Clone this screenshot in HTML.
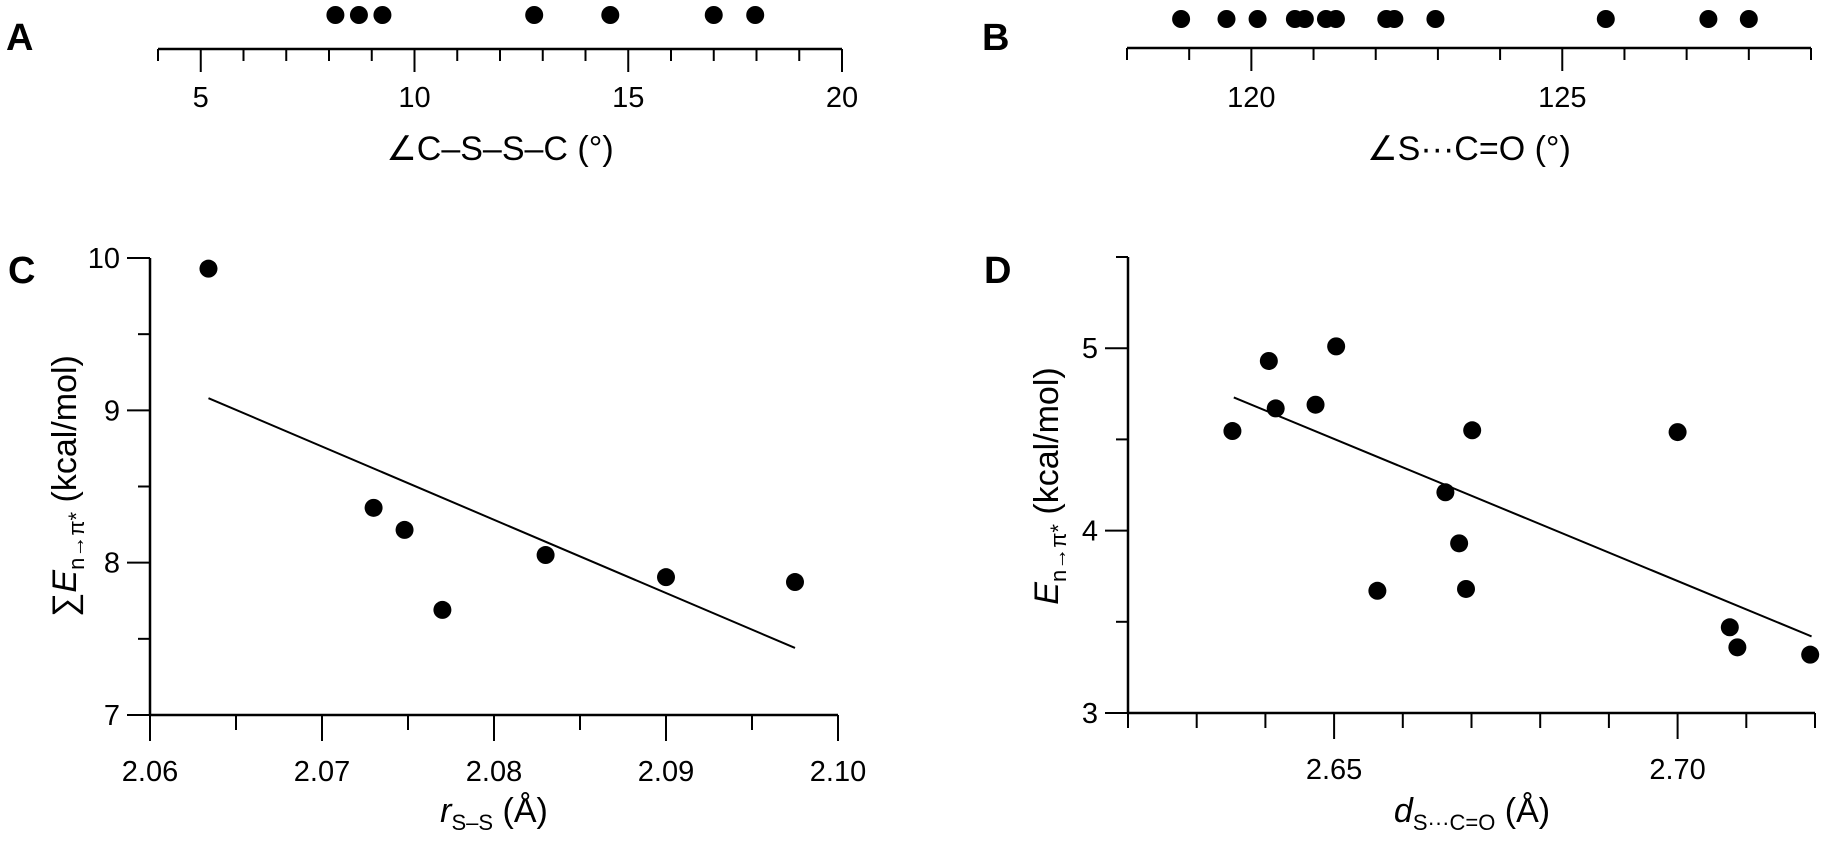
<!DOCTYPE html>
<html><head><meta charset="utf-8"><style>
html,body{margin:0;padding:0;background:#fff;}
svg{display:block;}
text{font-family:"Liberation Sans Narrow","Liberation Sans",sans-serif;fill:#000;}
.lbl{font-size:29px;}
.ttl{font-size:34px;}
.pl{font-family:"Liberation Sans",sans-serif;font-weight:bold;font-size:38px;}
</style></head><body>
<svg id="fig" width="1825" height="842" viewBox="0 0 1825 842" xmlns="http://www.w3.org/2000/svg">
<text class="pl" x="6" y="50">A</text>
<text class="pl" x="982" y="50">B</text>
<text class="pl" x="8" y="283">C</text>
<text class="pl" x="984" y="283">D</text>
<text class="ttl" x="500" y="160" text-anchor="middle">∠C–S–S–C (°)</text>
<text class="ttl" x="1469" y="160" text-anchor="middle">∠S···C=O (°)</text>
<text class="ttl" x="494" y="822" text-anchor="middle"><tspan font-style="italic">r</tspan><tspan font-size="22" dy="8">S–S</tspan><tspan dy="-8"> (Å)</tspan></text>
<text class="ttl" x="1472" y="822" text-anchor="middle"><tspan font-style="italic">d</tspan><tspan font-size="22" dy="8">S···C=O</tspan><tspan dy="-8"> (Å)</tspan></text>
<text class="ttl" transform="translate(76,486) rotate(-90)" text-anchor="middle">∑<tspan font-style="italic">E</tspan><tspan font-size="22" dy="8">n→π*</tspan><tspan dy="-8"> (kcal/mol)</tspan></text>
<text class="ttl" transform="translate(1058,486) rotate(-90)" text-anchor="middle"><tspan font-style="italic">E</tspan><tspan font-size="22" dy="8">n→π*</tspan><tspan dy="-8"> (kcal/mol)</tspan></text>
<g id="gA"></g>
<g id="gB"></g>
<g id="gC"></g>
<g id="gD"></g>
</svg>
<script>
// Panel A data
const aValues = [8.15, 8.7, 9.25, 12.8, 14.58, 17.0, 17.97];
const aTicks = [5, 10, 15, 20];
// Panel B data
const bValues = [118.87, 119.6, 120.1, 120.7, 120.86, 121.2, 121.36, 122.17, 122.3, 122.96, 125.7, 127.35, 128.0];
const bTicks = [120, 125];
// Panel C data
const cX = [2.0634, 2.073, 2.0748, 2.077, 2.083, 2.090, 2.0975];
const cY = [9.93, 8.36, 8.215, 7.69, 8.05, 7.905, 7.873];
const cFitX = [2.0634, 2.0975];
const cFitY = [9.08, 7.44];
const cXTicks = ["2.06", "2.07", "2.08", "2.09", "2.10"];
const cYTicks = [7, 8, 9, 10];
// Panel D data
const dX = [2.6352, 2.6405, 2.6415, 2.6473, 2.6503, 2.6563, 2.6662, 2.6682, 2.6692, 2.6701, 2.700, 2.7076, 2.7087, 2.7193];
const dY = [4.546, 4.93, 4.67, 4.69, 5.01, 3.67, 4.21, 3.93, 3.68, 4.55, 4.54, 3.47, 3.36, 3.32];
const dFitX = [2.6354, 2.7195];
const dFitY = [4.73, 3.42];
const dXTicks = ["2.65", "2.70"];
const dYTicks = [3, 4, 5];

const NS = "http://www.w3.org/2000/svg";
function mk(parent, tag, attrs){const e=document.createElementNS(NS,tag);for(const k in attrs)e.setAttribute(k,attrs[k]);parent.appendChild(e);return e;}
function lin(d0,d1,r0,r1){return v=>r0+(v-d0)*(r1-r0)/(d1-d0);}

// ---- Panel A ----
(function(){
  const g=document.getElementById('gA');
  const x=lin(4,20,158,842), y0=49;
  let l=mk(g,'line',{x1:158,y1:y0,x2:842,y2:y0,stroke:'#000','stroke-width':2.5});
  
  
  for(let v=4;v<=20;v++){
    const maj=aTicks.includes(v);
    const t=mk(g,'line',{x1:x(v),y1:y0,x2:x(v),y2:y0+(maj?23:12),stroke:'#000','stroke-width':2});
    
    
  }
  aTicks.forEach(v=>{const t=mk(g,'text',{x:x(v),y:107,'text-anchor':'middle',class:'lbl'});t.textContent=v;
    
    });
  aValues.forEach(v=>{const c=mk(g,'circle',{cx:x(v),cy:15,r:9,fill:'#000'});
    
    });
})();

// ---- Panel B ----
(function(){
  const g=document.getElementById('gB');
  const x=lin(118,129,1127,1811), y0=48;
  let l=mk(g,'line',{x1:1127,y1:y0,x2:1811,y2:y0,stroke:'#000','stroke-width':2.5});
  
  
  for(let v=118;v<=129;v++){
    const maj=bTicks.includes(v);
    const t=mk(g,'line',{x1:x(v),y1:y0,x2:x(v),y2:y0+(maj?23:12),stroke:'#000','stroke-width':2});
    
    
  }
  bTicks.forEach(v=>{const t=mk(g,'text',{x:x(v),y:107,'text-anchor':'middle',class:'lbl'});t.textContent=v;
    
    });
  bValues.forEach(v=>{const c=mk(g,'circle',{cx:x(v),cy:19,r:9,fill:'#000'});
    
    });
})();

// ---- Scatter panel builder ----
function scatter(id,key,xd,yd,xr,yr,xMinorStep,xLabels,yMinorStep,yLabels,px,py,fx,fy){
  const g=document.getElementById(id);
  const x=lin(xd[0],xd[1],xr[0],xr[1]), y=lin(yd[0],yd[1],yr[0],yr[1]);
  let ax=mk(g,'line',{x1:xr[0],y1:yr[0],x2:xr[1],y2:yr[0],stroke:'#000','stroke-width':2.5});
  
  
  let ay=mk(g,'line',{x1:xr[0],y1:yr[0],x2:xr[0],y2:yr[1],stroke:'#000','stroke-width':2.5});
  
  
  const xl=xLabels.map(Number), yl=yLabels.map(Number);
  const nx=Math.round((xd[1]-xd[0])/xMinorStep);
  for(let i=0;i<=nx;i++){
    const v=xd[0]+i*xMinorStep, maj=xl.some(m=>Math.abs(m-v)<1e-6);
    const t=mk(g,'line',{x1:x(v),y1:yr[0],x2:x(v),y2:yr[0]+(maj?26:15),stroke:'#000','stroke-width':2});
    
    
  }
  const ny=Math.round((yd[1]-yd[0])/yMinorStep);
  for(let i=0;i<=ny;i++){
    const v=yd[0]+i*yMinorStep, maj=yl.some(m=>Math.abs(m-v)<1e-6);
    const t=mk(g,'line',{x1:xr[0]-(maj?23:12),y1:y(v),x2:xr[0],y2:y(v),stroke:'#000','stroke-width':2});
    
    
  }
  xLabels.forEach(s=>{const t=mk(g,'text',{x:x(Number(s)),y:yr[0]+66,'text-anchor':'middle',class:'lbl'});t.textContent=s;
    
    });
  yLabels.forEach(v=>{const t=mk(g,'text',{x:xr[0]-30,y:y(v)+10,'text-anchor':'end',class:'lbl'});t.textContent=v;
    
    });
  const f=mk(g,'line',{x1:x(fx[0]),y1:y(fy[0]),x2:x(fx[1]),y2:y(fy[1]),stroke:'#000','stroke-width':2});
  
  
  px.forEach((v,i)=>{const c=mk(g,'circle',{cx:x(v),cy:y(py[i]),r:9,fill:'#000'});
    
    });
}
scatter('gC','c',[2.06,2.10],[7,10],[150,838],[715,258],0.005,cXTicks,0.5,cYTicks,cX,cY,cFitX,cFitY);
scatter('gD','d',[2.62,2.72],[3,5.5],[1128,1815],[713,257],0.01,dXTicks,0.5,dYTicks,dX,dY,dFitX,dFitY);
</script>
</body></html>
